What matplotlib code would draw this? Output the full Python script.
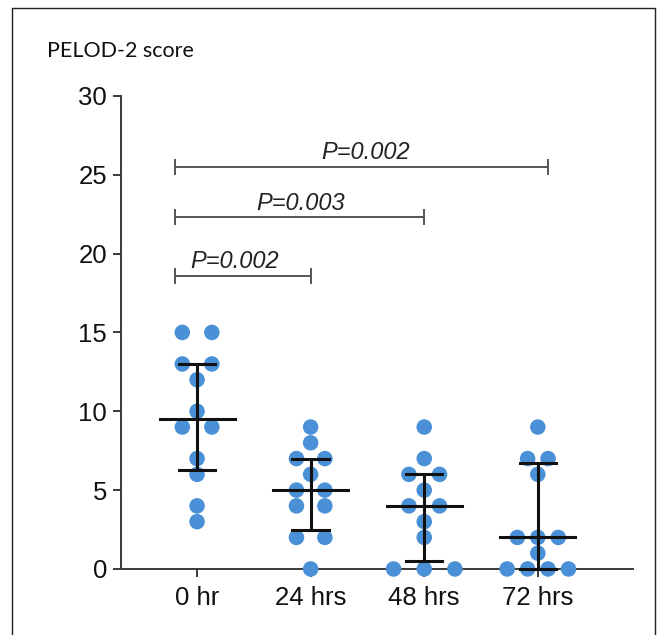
import numpy as np
import matplotlib
matplotlib.use("Agg")
import matplotlib.pyplot as plt
from matplotlib.lines import Line2D

# data
categories = ["0 hr", "24 hrs", "48 hrs", "72 hrs"]
scores_0h = [15, 15, 13, 13, 12, 10, 9, 9, 7, 6, 4, 3]
scores_24h = [9, 8, 7, 7, 6, 5, 5, 4, 4, 2, 2, 0]
scores_48h = [9, 7, 6, 6, 5, 4, 4, 3, 2, 0, 0, 0]
scores_72h = [9, 7, 7, 6, 2, 2, 2, 1, 0, 0, 0, 0]
p_labels = ["P=0.002", "P=0.003", "P=0.002"]
p_targets = [1, 2, 3]
p_heights = [18.6, 22.3, 25.5]

groups = [scores_0h, scores_24h, scores_48h, scores_72h]
spacing = [0.26, 0.25, 0.27, 0.18]

dot_color = "#4A90D6"
axis_color = "#3a3a3a"

plt.rcParams["font.family"] = ["Liberation Sans", "DejaVu Sans"]

fig = plt.figure(figsize=(6.61, 6.35), dpi=100)
ax = fig.add_axes([0.183, 0.104, 0.775, 0.745])


def swarm_offsets(vals, step):
    vals = np.asarray(vals)
    offs = np.zeros(len(vals))
    for v in np.unique(vals):
        idx = np.where(vals == v)[0]
        k = len(idx)
        offs[idx] = (np.arange(k) - (k - 1) / 2) * step
    return offs


for i, vals in enumerate(groups):
    xs = i + swarm_offsets(vals, spacing[i])
    ax.scatter(xs, vals, s=125, color=dot_color, edgecolors="none",
               zorder=3, clip_on=False)
    # median with interquartile range
    q1, med, q3 = np.percentile(vals, [25, 50, 75], method="weibull")
    ax.plot([i, i], [q1, q3], color="#111111", lw=2.2, zorder=4,
            solid_capstyle="butt", clip_on=False)
    ax.plot([i - 0.33, i + 0.33], [med, med], color="#111111", lw=2.2,
            zorder=4, clip_on=False)
    for q in (q1, q3):
        ax.plot([i - 0.16, i + 0.16], [q, q], color="#111111", lw=2.2,
                zorder=4, clip_on=False)

# significance brackets
bar_start = -0.19
text_x = [0.33, 0.91, 1.48]
for j, (lab, tgt, h) in enumerate(zip(p_labels, p_targets, p_heights)):
    x_end = tgt + (0.09 if tgt == 3 else 0.0)
    ax.plot([bar_start, x_end], [h, h], color="#555555", lw=1.4, zorder=2)
    for xe in (bar_start, x_end):
        ax.plot([xe, xe], [h - 0.45, h + 0.45], color="#555555", lw=1.4,
                zorder=2)
    ax.text(text_x[j], h + 0.15, lab, ha="center", va="bottom",
            fontsize=17, style="italic", color="#222222")

ax.set_xlim(-0.67, 3.84)
ax.set_ylim(0, 30)
ax.set_yticks(range(0, 31, 5))
ax.set_xticks(range(len(categories)))
ax.set_xticklabels(categories)

for side in ("top", "right"):
    ax.spines[side].set_visible(False)
for side in ("left", "bottom"):
    ax.spines[side].set_color(axis_color)
    ax.spines[side].set_linewidth(1.4)
ax.tick_params(axis="both", direction="out", length=6, width=1.4,
               color=axis_color, labelsize=18.5, labelcolor="#111111")
ax.tick_params(axis="y", pad=4)
ax.tick_params(axis="x", pad=6)

fig.text(0.071, 0.910, "PELOD-2 score", family="Lato", fontsize=15.5,
         color="#111111", ha="left", va="baseline")

# outer frame
fx0, fx1, fy1 = 12 / 661, 655 / 661, 1 - 8 / 635
fig.add_artist(Line2D([fx0, fx0, fx1, fx1], [0, fy1, fy1, 0],
                      transform=fig.transFigure, color="#222222", lw=1.0))

fig.savefig("out.png", dpi=100)
